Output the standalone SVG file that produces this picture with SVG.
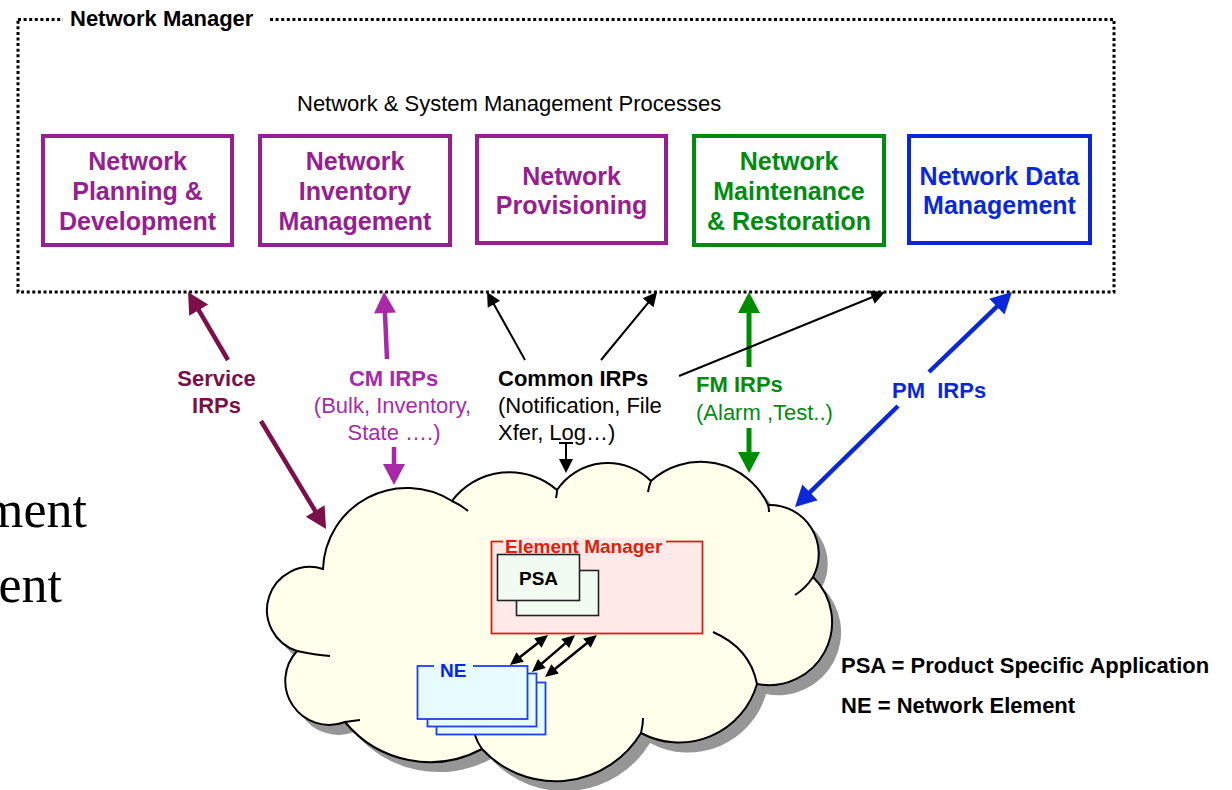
<svg xmlns="http://www.w3.org/2000/svg" width="1232" height="790" viewBox="0 0 1232 790">
<defs>
<style>
text{font-family:"Liberation Sans",Arial,Helvetica,sans-serif}
.b{font-weight:bold}
.proc{fill:#fff;stroke-width:4}
.pt{font-size:25px;font-weight:bold;text-anchor:middle}
.lbl{font-size:22px}
.tail{fill:none;stroke:#000;stroke-width:2}
.svc{stroke:#7B1048;stroke-width:4.5;fill:none}
.cm{stroke:#A82AA8;stroke-width:4.5;fill:none}
.fm{stroke:#008C00;stroke-width:5;fill:none}
.pm{stroke:#0A28D8;stroke-width:4.5;fill:none}
.blk{stroke:#000;stroke-width:2;fill:none}
.dbl{stroke:#000;stroke-width:2.5;fill:none}
</style>
<path id="cloudShape" d="M323,569 A84,84 0 0 1 452,501 A72,72 0 0 1 557,490 A61,61 0 0 1 651,481 A74,74 0 0 1 768,505 A49,49 0 0 1 813,577 A63,63 0 0 1 757,684 A81,81 0 0 1 641,733 A100,100 0 0 1 482,749 A110,110 0 0 1 345,722 A44,44 0 0 1 297,651 A43,43 0 0 1 323,569 Z"/>
<marker id="mSvc" markerUnits="userSpaceOnUse" markerWidth="21" markerHeight="22" viewBox="0 0 21 22" refX="13" refY="11" orient="auto" overflow="visible"><path d="M0,0 L21,11 L0,22 z" fill="#7B1048"/></marker>
<marker id="mCM" markerUnits="userSpaceOnUse" markerWidth="21" markerHeight="22" viewBox="0 0 21 22" refX="13" refY="11" orient="auto" overflow="visible"><path d="M0,0 L21,11 L0,22 z" fill="#A82AA8"/></marker>
<marker id="mFM" markerUnits="userSpaceOnUse" markerWidth="21" markerHeight="22" viewBox="0 0 21 22" refX="13" refY="11" orient="auto" overflow="visible"><path d="M0,0 L21,11 L0,22 z" fill="#008C00"/></marker>
<marker id="mPM" markerUnits="userSpaceOnUse" markerWidth="21" markerHeight="22" viewBox="0 0 21 22" refX="13" refY="11" orient="auto" overflow="visible"><path d="M0,0 L21,11 L0,22 z" fill="#0A28D8"/></marker>
<marker id="mBlk" markerUnits="userSpaceOnUse" markerWidth="14" markerHeight="14" viewBox="0 0 14 14" refX="10" refY="7" orient="auto" overflow="visible"><path d="M0,0 L14,7 L0,14 z" fill="#000"/></marker>
<marker id="mDbl" markerUnits="userSpaceOnUse" markerWidth="13" markerHeight="12" viewBox="0 0 13 12" refX="9" refY="6" orient="auto-start-reverse" overflow="visible"><path d="M0,0 L13,6 L0,12 z" fill="#000"/></marker>
</defs>

<rect width="1232" height="790" fill="#fff"/>

<g id="background-fragments">
<text x="87" y="527" font-family="Liberation Serif, Times New Roman, serif" style="font-family:'Liberation Serif','Times New Roman',serif" font-size="52" text-anchor="end">ment</text>
<text x="62" y="602" style="font-family:'Liberation Serif','Times New Roman',serif" font-size="52" text-anchor="end">ent</text>
</g>

<g id="network-manager">
<rect x="18" y="19.5" width="1096" height="272.5" fill="none" stroke="#000" stroke-width="3" stroke-dasharray="3 2.6"/>
<rect x="63" y="10" width="207" height="18" fill="#fff"/>
<text x="70" y="26" class="b" font-size="22">Network Manager</text>
<text x="297" y="111" font-size="22">Network &amp; System Management Processes</text>
</g>

<g id="node-planning">
<rect x="43" y="136" width="189" height="109" class="proc" stroke="#96208F"/>
<text class="pt" fill="#96208F"><tspan x="137.5" y="170">Network</tspan><tspan x="137.5" y="200">Planning &amp;</tspan><tspan x="137.5" y="230">Development</tspan></text>
</g>
<g id="node-inventory">
<rect x="260" y="136" width="190" height="109" class="proc" stroke="#96208F"/>
<text class="pt" fill="#96208F"><tspan x="355" y="170">Network</tspan><tspan x="355" y="200">Inventory</tspan><tspan x="355" y="230">Management</tspan></text>
</g>
<g id="node-provisioning">
<rect x="477" y="136" width="189" height="107" class="proc" stroke="#96208F"/>
<text class="pt" fill="#96208F"><tspan x="571.5" y="185">Network</tspan><tspan x="571.5" y="214">Provisioning</tspan></text>
</g>
<g id="node-maintenance">
<rect x="694" y="136" width="190" height="109" class="proc" stroke="#008C10"/>
<text class="pt" fill="#008C10"><tspan x="789" y="170">Network</tspan><tspan x="789" y="200">Maintenance</tspan><tspan x="789" y="230">&amp; Restoration</tspan></text>
</g>
<g id="node-data">
<rect x="909" y="136" width="181" height="107" class="proc" stroke="#0A28D8"/>
<text class="pt" fill="#0A28D8"><tspan x="999.5" y="185">Network Data</tspan><tspan x="999.5" y="214">Management</tspan></text>
</g>

<g id="cloud">
<use href="#cloudShape" transform="translate(9,10)" fill="#969696"/>
<use href="#cloudShape" fill="#FFFFEC" stroke="#000" stroke-width="2"/>
<path class="tail" d="M452,501 Q461,505 468,511"/>
<path class="tail" d="M557,490 Q557,494 556,498"/>
<path class="tail" d="M651,481 Q649,486 648,492"/>
<path class="tail" d="M768,505 Q769,508 769,512"/>
<path class="tail" d="M813,577 Q806,588 795,595"/>
<path class="tail" d="M713,632 Q750,648 757,684"/>
<path class="tail" d="M641,733 Q643,725 643,718"/>
<path class="tail" d="M482,749 Q477,742 475,735"/>
<path class="tail" d="M297,651 Q315,655 330,656"/>
<path class="tail" d="M345,722 Q352,721 360,720"/>
</g>

<g id="element-manager">
<rect x="491.5" y="541.5" width="211" height="92" fill="#FFE9E9" stroke="#E01E0A" stroke-width="1.8"/>
<rect x="503" y="538" width="163" height="7" fill="#FFE9E9"/>
<text x="505" y="553" class="b" font-size="19" fill="#E01E0A">Element Manager</text>
</g>

<g id="psa">
<rect x="516.5" y="570.5" width="82" height="45" fill="#F2FBF2" stroke="#222" stroke-width="1.6"/>
<rect x="497.5" y="554.5" width="82" height="46" fill="#F2FBF2" stroke="#222" stroke-width="1.6"/>
<text x="538.5" y="585" class="b" font-size="19" text-anchor="middle">PSA</text>
</g>

<g id="ne">
<rect x="436.5" y="682.5" width="109" height="52" fill="#E6FCFF" stroke="#1F3FE8" stroke-width="1.8"/>
<rect x="427.5" y="673.5" width="109" height="53" fill="#E6FCFF" stroke="#1F3FE8" stroke-width="1.8"/>
<rect x="417.5" y="666" width="110" height="53" fill="#E6FCFF" stroke="#1F3FE8" stroke-width="1.8"/>
<rect x="434" y="663" width="39" height="6" fill="#E6FCFF"/>
<text x="440" y="677" class="b" font-size="19" fill="#0A28D8">NE</text>
</g>

<g id="connectors">
<line class="svc" x1="228" y1="360" x2="192.1" y2="298.9" marker-end="url(#mSvc)"/>
<line class="svc" x1="261" y1="421" x2="321.9" y2="522.1" marker-end="url(#mSvc)"/>
<line class="cm" x1="387" y1="359" x2="384.4" y2="300" marker-end="url(#mCM)"/>
<line class="cm" x1="394" y1="447" x2="394" y2="477" marker-end="url(#mCM)"/>
<line class="fm" x1="749" y1="367" x2="749" y2="300" marker-end="url(#mFM)"/>
<line class="fm" x1="749" y1="428" x2="749" y2="465" marker-end="url(#mFM)"/>
<line class="blk" x1="525" y1="360" x2="489" y2="295.5" marker-end="url(#mBlk)"/>
<line class="blk" x1="601" y1="360" x2="654.5" y2="295.1" marker-end="url(#mBlk)"/>
<line class="blk" x1="679" y1="376" x2="881.3" y2="293.5" marker-end="url(#mBlk)"/>
<line class="blk" x1="566" y1="443" x2="566" y2="469" marker-end="url(#mBlk)" stroke-width="1.5"/>
<line class="blk" x1="559" y1="443" x2="573" y2="443" stroke-width="1.5"/>
<line class="pm" x1="929" y1="372" x2="1006.2" y2="297.6" marker-end="url(#mPM)"/>
<line class="pm" x1="898" y1="406" x2="800.7" y2="501.4" marker-end="url(#mPM)"/>
<line class="dbl" x1="544.9" y1="637.5" x2="513.1" y2="662.5" marker-start="url(#mDbl)" marker-end="url(#mDbl)"/>
<line class="dbl" x1="572" y1="637.6" x2="535" y2="669.4" marker-start="url(#mDbl)" marker-end="url(#mDbl)"/>
<line class="dbl" x1="593.9" y1="637.5" x2="548.1" y2="674.5" marker-start="url(#mDbl)" marker-end="url(#mDbl)"/>
</g>

<g id="labels">
<text class="lbl b" fill="#7B1048" text-anchor="middle"><tspan x="216.5" y="386">Service</tspan><tspan x="216.5" y="413">IRPs</tspan></text>
<text class="lbl" fill="#A82AA8" text-anchor="middle"><tspan x="393.5" y="386" font-weight="bold">CM IRPs</tspan><tspan x="392.5" y="413">(Bulk, Inventory,</tspan><tspan x="394" y="440">State ….)</tspan></text>
<text class="lbl" fill="#000"><tspan x="498" y="386" font-weight="bold">Common IRPs</tspan><tspan x="498" y="413">(Notification, File</tspan><tspan x="498" y="440">Xfer, Log…)</tspan></text>
<text class="lbl" fill="#008C10"><tspan x="696" y="392" font-weight="bold">FM IRPs</tspan><tspan x="696" y="420">(Alarm ,Test..)</tspan></text>
<text class="lbl b" fill="#0A28D8" x="892" y="398">PM&#160; IRPs</text>
</g>

<g id="legend">
<text x="841" y="673" class="lbl b">PSA = Product Specific Application</text>
<text x="841" y="713" class="lbl b">NE = Network Element</text>
</g>
</svg>
